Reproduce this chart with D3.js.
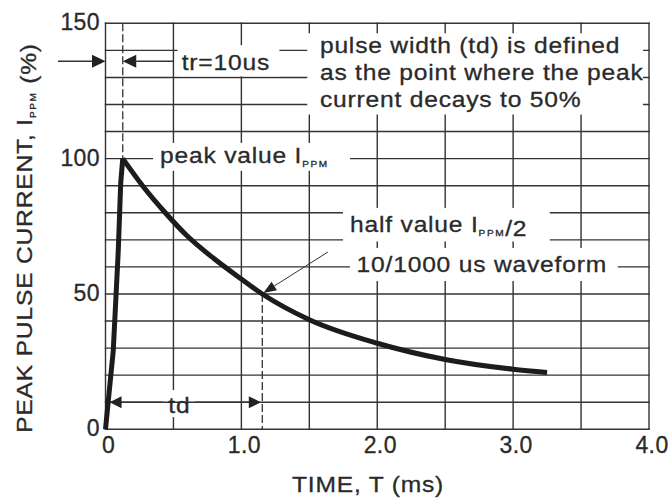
<html>
  <head>
    <title>Pulse Waveform</title>
    <script type="text/javascript" src="https://cdn.jsdelivr.net/npm/d3@7"></script>
    <style type="text/css">

body {
  margin: 0;
  background: #fff;
}

text {
  font-family: "Liberation Sans", Arial, sans-serif;
  font-size: 22px;
  fill: #2a2a2a;
  stroke: #2a2a2a;
  stroke-width: 0.3px;
}

.note {
  letter-spacing: 0.7px;
}

.tick-label {
  font-size: 23px;
  letter-spacing: 0.4px;
}

.grid line {
  stroke: #333;
  stroke-width: 1.4px;
}

.knock {
  fill: #fff;
}

.wave {
  fill: none;
  stroke: #1c1c1c;
  stroke-width: 5px;
  stroke-linejoin: miter;
}

.marker {
  stroke: #333;
  stroke-width: 1.3px;
  stroke-dasharray: 8, 3;
}

.arrow {
  stroke: #333;
  stroke-width: 1.4px;
}

.arrow.thin {
  stroke-width: 1px;
}

.head {
  fill: #222;
}

    </style>
  </head>
  <body>
    <script type="text/javascript">

// waveform (time in ms, current in % of Ippm)
var timeMs     = [0, 0.057, 0.094, 0.112, 0.127, 0.28, 0.44, 0.6, 0.8, 1.0, 1.154, 1.5, 2.0, 2.5, 3.0, 3.25];
var currentPct = [0, 29, 66, 91, 100, 89.5, 80, 71.5, 63, 55.5, 50, 40.5, 31.8, 25.8, 22.2, 21];

var peakIndex = 4;      // end of the 10us rise
var halfIndex = 10;     // point where the current is back to 50%

var xTicks = [0, 1, 2, 3, 4];
var xTickLabels = ["0", "1.0", "2.0", "3.0", "4.0"];
var yTicks = [0, 50, 100, 150];
var yTickLabels = ["0", "50", "100", "150"];
var xGrid = d3.range(0, 4.01, 0.5);
var yGrid = d3.range(0, 151, 10);

var noteLines = ["pulse width (td) is defined", "as the point where the peak", "current decays to 50%"];

var w = 672,
    h = 499,
    stretch = 1.12,     // the lettering in the sheet is a little wide
    x = d3.scaleLinear().domain([0, 4]).range([105.5, 649]),
    y = d3.scaleLinear().domain([0, 150]).range([429.3, 23.3]);

var data = timeMs.map(function(t, i) { return {t: t, v: currentPct[i]}; });
var peak = data[peakIndex],
    half = data[halfIndex];

var svg = d3.select("body")
  .append("svg")
    .attr("width", w)
    .attr("height", h);

// grid
var grid = svg.append("g").attr("class", "grid");

grid.selectAll("line.v")
    .data(xGrid)
  .enter().append("line")
    .attr("class", "v")
    .attr("x1", x).attr("x2", x)
    .attr("y1", y(0) + 0.7).attr("y2", y(150) - 0.7);

grid.selectAll("line.h")
    .data(yGrid)
  .enter().append("line")
    .attr("class", "h")
    .attr("y1", y).attr("y2", y)
    .attr("x1", x(0) - 0.7).attr("x2", x(4) + 0.7);

// white boxes behind the notes, in data units [t0, t1, v0, v1]
var boxes = [
  [0.53, 1.28, 130.4, 141.9],
  [1.485, 3.955, 116.3, 146.3],
  [0.35, 1.8, 95.5, 105.8],
  [1.748, 3.27, 69.4, 81.8],
  [1.8, 3.77, 54.8, 67],
  [0.423, 0.659, 4.5, 14.5]
];

svg.selectAll("rect.knock")
    .data(boxes)
  .enter().append("rect")
    .attr("class", "knock")
    .attr("x", function(d) { return x(d[0]); })
    .attr("width", function(d) { return x(d[1]) - x(d[0]); })
    .attr("y", function(d) { return y(d[3]); })
    .attr("height", function(d) { return y(d[2]) - y(d[3]); });

// dashed markers at tr and td
svg.append("line")
    .attr("class", "marker")
    .attr("x1", x(peak.t)).attr("x2", x(peak.t))
    .attr("y1", y(150)).attr("y2", y(peak.v));

svg.append("line")
    .attr("class", "marker")
    .attr("x1", x(half.t)).attr("x2", x(half.t))
    .attr("y1", y(half.v)).attr("y2", y(0));

// waveform: straight rise, smooth decay
svg.append("path")
    .attr("class", "wave")
    .attr("d", d3.line()
      .x(function(d) { return x(d.t); })
      .y(function(d) { return y(d.v); })(data.slice(0, peakIndex + 1)));

svg.append("path")
    .attr("class", "wave")
    .attr("d", d3.line()
      .curve(d3.curveMonotoneX)
      .x(function(d) { return x(d.t); })
      .y(function(d) { return y(d.v); })(data.slice(peakIndex)));

// arrows
function arrow(x1, y1, x2, y2, len, wid, cls) {
  var a = Math.atan2(y2 - y1, x2 - x1),
      bx = x2 - len * Math.cos(a),
      by = y2 - len * Math.sin(a),
      px = wid * Math.sin(a),
      py = -wid * Math.cos(a);
  svg.append("line")
      .attr("class", "arrow" + (cls ? " " + cls : ""))
      .attr("x1", x1).attr("y1", y1)
      .attr("x2", bx).attr("y2", by);
  svg.append("path")
      .attr("class", "head")
      .attr("d", "M" + x2 + "," + y2 + "L" + (bx + px) + "," + (by + py) + "L" + (bx - px) + "," + (by - py) + "Z");
}

var trY = y(136);
arrow(x(-0.35), trY, x(0), trY, 13.5, 6.5);
arrow(x(0.5), trY, x(peak.t), trY, 13.5, 6.5);

var tdY = y(10);
arrow((x(0.03) + x(half.t)) / 2, tdY, x(0.03), tdY, 12, 6);
arrow((x(0.03) + x(half.t)) / 2, tdY, x(half.t) - 1.5, tdY, 12, 6);

arrow(x(1.637), y(65.5), x(half.t) + 1, y(half.v) - 1, 13, 5, "thin");

// lettering; {lower: "..."} parts are drawn as small subscript
function letter(px, py, parts, rot, anchor) {
  var txt = svg.append("text")
      .attr("class", "note")
      .attr("transform", "translate(" + px + "," + py + ")" + (rot ? " rotate(" + rot + ")" : "") + " scale(" + stretch + ",1)")
      .attr("text-anchor", anchor || "start");
  parts.forEach(function(p) {
    if (typeof p === "string") {
      txt.append("tspan").text(p);
    } else {
      txt.append("tspan").attr("dy", 4).style("font-size", "9px").style("letter-spacing", "1.4px").text(p.lower);
      txt.append("tspan").attr("dy", -4).text("");
    }
  });
  return txt;
}

function note(t, v, parts) {
  return letter(x(t), y(v), parts);
}

note(0.561, 132.8, ["tr=10us"]);
note(0.401, 98.3, ["peak value I", {lower: "PPM"}]);
note(1.8, 72.8, ["half value I", {lower: "PPM"}, "/2"]);
note(1.848, 58, ["10/1000 us waveform"]);
note(0.462, 5.9, ["td"]);

var noteBase = [138.9, 129.0, 119.2];
noteLines.forEach(function(s, i) {
  note(1.578, noteBase[i], [s]);
});

// tick labels
svg.selectAll("text.xt")
    .data(xTicks)
  .enter().append("text")
    .attr("class", "xt tick-label")
    .attr("x", function(d) { return x(d) + 3; })
    .attr("y", 453)
    .attr("text-anchor", "middle")
    .text(function(d, i) { return xTickLabels[i]; });

svg.selectAll("text.yt")
    .data(yTicks)
  .enter().append("text")
    .attr("class", "yt tick-label")
    .attr("x", x(0) - 5.5)
    .attr("y", y)
    .attr("dy", "0.3em")
    .attr("text-anchor", "end")
    .text(function(d, i) { return yTickLabels[i]; });

// axis titles
letter(368, 492, ["TIME, T (ms)"], 0, "middle");
letter(32, 238, ["PEAK PULSE CURRENT, I", {lower: "PPM"}, " (%)"], -90, "middle");

    </script>
  </body>
</html>
